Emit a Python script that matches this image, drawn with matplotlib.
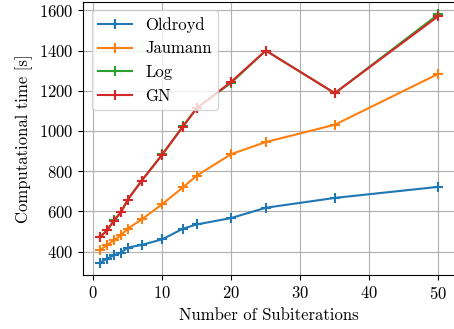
import matplotlib
matplotlib.use('Agg')
import matplotlib.pyplot as plt

plt.rcParams.update({
    'font.family': 'serif',
    'font.serif': ['cmr10', 'DejaVu Serif'],
    'mathtext.fontset': 'cm',
    'axes.formatter.use_mathtext': True,
    'font.size': 12,
})

# Timings per number of subiterations
subiterations = [1, 2, 3, 4, 5, 7, 10, 13, 15, 20, 25, 35, 50]
oldroyd = [345, 365, 382, 395, 420, 433, 461, 514, 535, 567, 618, 667, 722]
jaumann = [408, 433, 456, 481, 514, 560, 636, 720, 778, 885, 945, 1031, 1284]
log = [474, 507, 555, 596, 659, 753, 884, 1024, 1115, 1240, 1400, 1188, 1580]
gn = [472, 505, 554, 595, 658, 752, 882, 1022, 1113, 1245, 1400, 1188, 1571]

fig = plt.figure(figsize=(4.54, 3.29), dpi=100)
ax = fig.add_axes([0.1835, 0.164, 0.819, 0.83])

ax.plot(subiterations, oldroyd, marker='+', ms=7, mew=1.5, color='C0', label='Oldroyd')
ax.plot(subiterations, jaumann, marker='+', ms=7, mew=1.5, color='C1', label='Jaumann')
ax.plot(subiterations, log, marker='+', ms=7, mew=1.5, color='C2', label='Log')
ax.plot(subiterations, gn, marker='+', ms=7, mew=1.5, color='C3', label='GN')

ax.set_xlabel('Number of Subiterations')
ax.set_ylabel('Computational time [s]')
ax.set_yticks([400, 600, 800, 1000, 1200, 1400, 1600])
ax.grid(True, color='#b0b0b0')
ax.legend(loc='upper left')

fig.savefig('out.png', dpi=100)
